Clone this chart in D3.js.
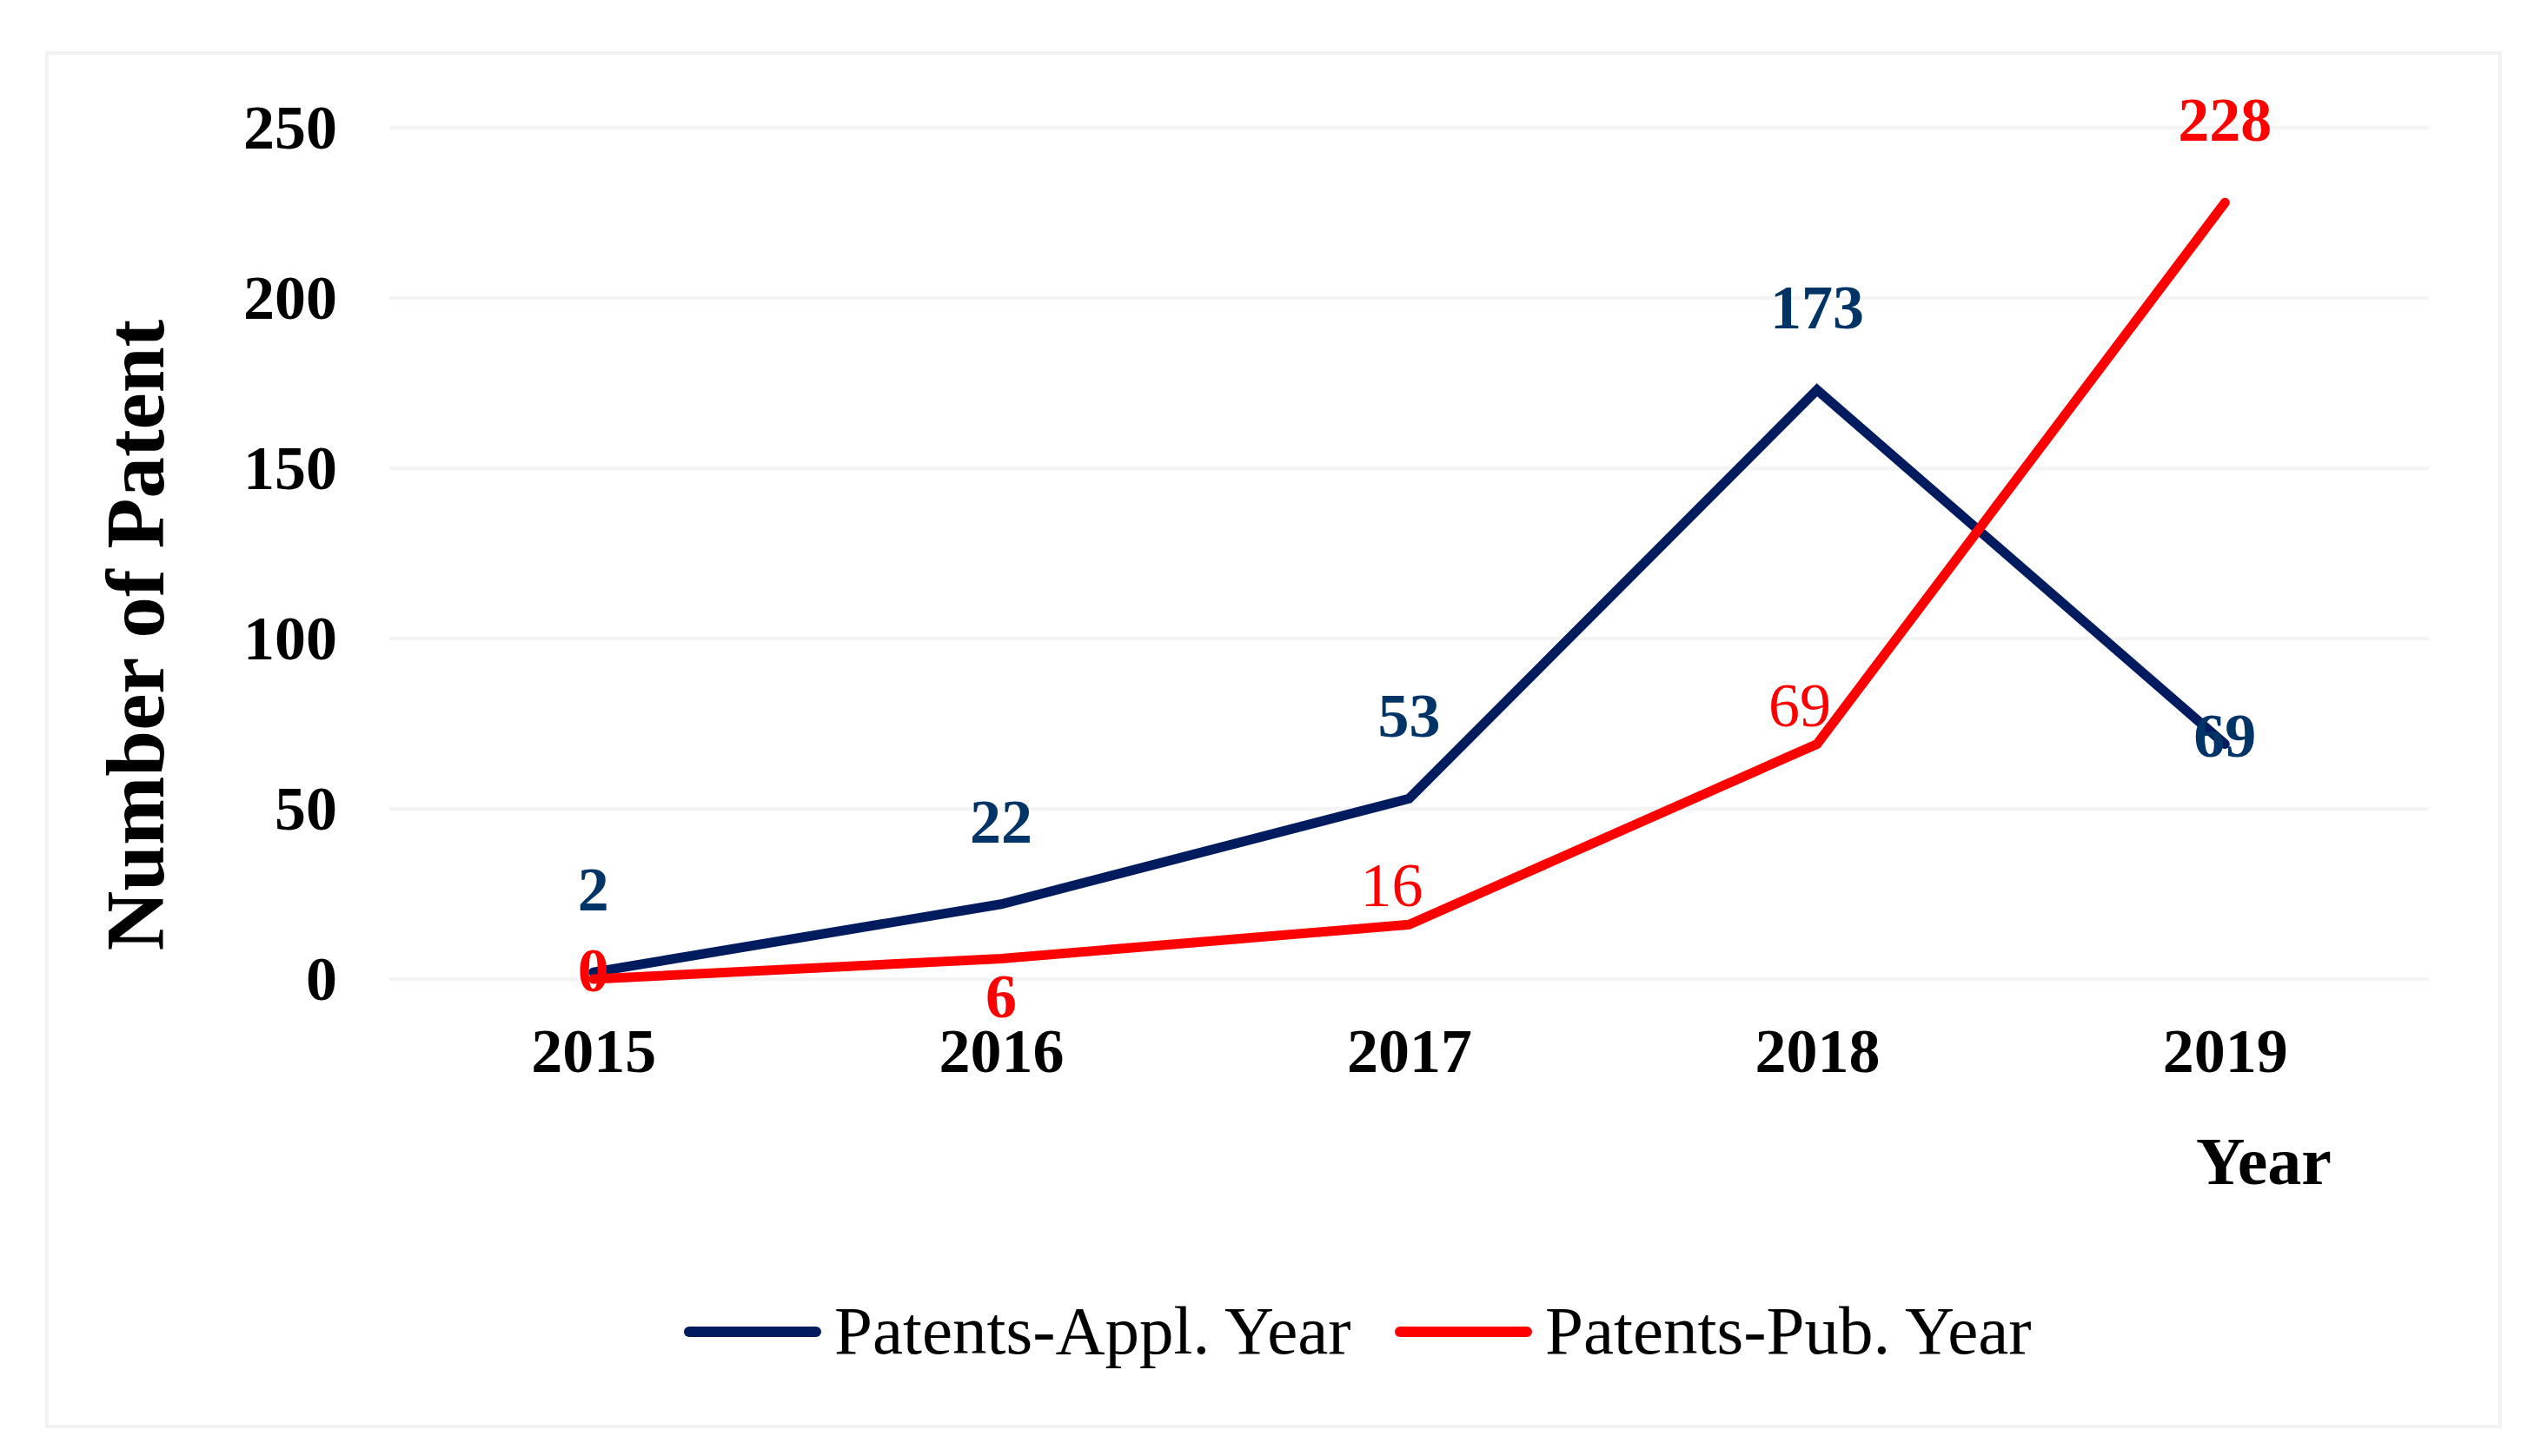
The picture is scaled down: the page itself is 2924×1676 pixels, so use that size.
<!DOCTYPE html>
<html>
<head>
<meta charset="utf-8">
<script src="https://cdn.jsdelivr.net/npm/d3@7/dist/d3.min.js"></script>
<style>
  body { margin: 0; background: #fff; }
  svg { display: block; font-family: "Liberation Serif", "Times New Roman", serif; }
  .tick text { font-family: "Liberation Serif", "Times New Roman", serif; font-size: 72px; font-weight: bold; fill: #000; }
</style>
</head>
<body>
<script>
// chart data
const years = ["2015", "2016", "2017", "2018", "2019"];
const applYear = [2, 22, 53, 173, 69];
const pubYear = [0, 6, 16, 69, 228];
const yTicks = [0, 50, 100, 150, 200, 250];
const seriesNames = ["Patents-Appl. Year", "Patents-Pub. Year"];
// where each data label sits relative to its point
const applLabelPos = ["above", "above", "above", "above", "center"];
const pubLabelPos = ["center", "below", "aboveLeft", "aboveLeft", "above"];
const pubLabelBold = [true, true, false, false, true];

const W = 2924, H = 1676;
const plotLeft = 448, plotRight = 2795, plotTop = 147, plotBottom = 1127;

const svg = d3.select("body").append("svg")
  .attr("width", W).attr("height", H);

// outer chart border
svg.append("rect")
  .attr("x", 54).attr("y", 61)
  .attr("width", 2823).attr("height", 1581)
  .attr("fill", "#fff").attr("stroke", "#f2f2f2").attr("stroke-width", 4);

const x = d3.scalePoint().domain(years).range([plotLeft, plotRight]).padding(0.5);
const y = d3.scaleLinear().domain([0, 250]).range([plotBottom, plotTop]);

// gridlines
svg.append("g").selectAll("line")
  .data(yTicks)
  .enter().append("line")
  .attr("x1", plotLeft).attr("x2", plotRight)
  .attr("y1", d => y(d)).attr("y2", d => y(d))
  .attr("stroke", "#f4f4f4").attr("stroke-width", 4);

// y axis labels
const yAxis = svg.append("g")
  .attr("transform", "translate(" + plotLeft + ",0)")
  .call(d3.axisLeft(y).tickValues(yTicks).tickSize(0).tickPadding(60));
yAxis.select(".domain").remove();

// x axis labels
const xAxis = svg.append("g")
  .attr("transform", "translate(0," + plotBottom + ")")
  .call(d3.axisBottom(x).tickSize(0).tickPadding(56));
xAxis.select(".domain").remove();

// axis titles
svg.append("text")
  .attr("transform", "translate(188,731) rotate(-90)")
  .attr("text-anchor", "middle")
  .attr("font-size", 95).attr("font-weight", "bold")
  .text("Number of Patent");

svg.append("text")
  .attr("x", 2605).attr("y", 1363)
  .attr("text-anchor", "middle")
  .attr("font-size", 78).attr("font-weight", "bold")
  .text("Year");

const line = d3.line()
  .x((d, i) => x(years[i]))
  .y(d => y(d));

const series = [
  { values: applYear, stroke: "#001c5f", labelColor: "#003366", pos: applLabelPos, bold: applYear.map(() => true) },
  { values: pubYear, stroke: "#ff0000", labelColor: "#ff0000", pos: pubLabelPos, bold: pubLabelBold }
];

series.forEach(s => {
  svg.append("path")
    .datum(s.values)
    .attr("d", line)
    .attr("fill", "none")
    .attr("stroke", s.stroke)
    .attr("stroke-width", 11)
    .attr("stroke-linecap", "round")
    .attr("stroke-linejoin", "miter");
});

// data labels
const offset = {
  above: [0, -71],
  below: [0, 68],
  center: [0, 14],
  aboveLeft: [-20, -21]
};

series.forEach(s => {
  svg.append("g").selectAll("text")
    .data(s.values)
    .enter().append("text")
    .attr("x", (d, i) => x(years[i]) + offset[s.pos[i]][0])
    .attr("y", (d, i) => y(d) + offset[s.pos[i]][1])
    .attr("text-anchor", "middle")
    .attr("font-size", 72)
    .attr("font-weight", (d, i) => s.bold[i] ? "bold" : "normal")
    .attr("fill", s.labelColor)
    .text(d => d);
});

// legend
const legendX = [787, 1605];
const legend = svg.append("g").selectAll("g")
  .data(seriesNames)
  .enter().append("g")
  .attr("transform", (d, i) => "translate(" + legendX[i] + ",1533)");

legend.append("line")
  .attr("x1", 6).attr("x2", 152)
  .attr("stroke", (d, i) => series[i].stroke)
  .attr("stroke-width", 12)
  .attr("stroke-linecap", "round");

legend.append("text")
  .attr("x", 173).attr("y", 25)
  .attr("font-size", 79)
  .text(d => d);
</script>
</body>
</html>
